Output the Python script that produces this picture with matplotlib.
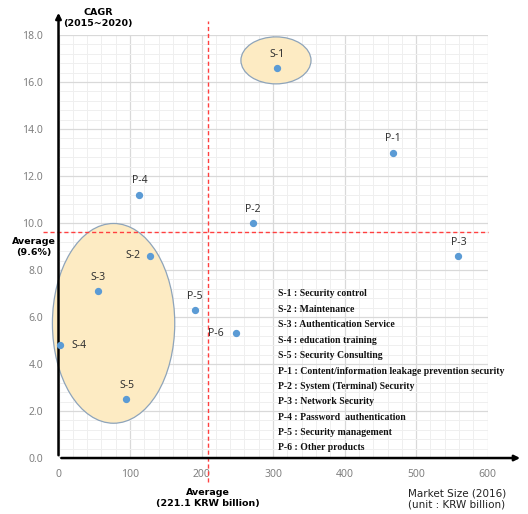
import numpy as np
import matplotlib
matplotlib.use("Agg")
import matplotlib.pyplot as plt
from matplotlib.patches import Ellipse
from matplotlib.ticker import MultipleLocator

# data
names = ["S-1", "S-2", "S-3", "S-4", "S-5", "P-1", "P-2", "P-3", "P-4", "P-5", "P-6"]
market = [306, 128, 55, 2, 95, 468, 272, 559, 113, 191, 248]
cagr = [16.6, 8.6, 7.1, 4.8, 2.5, 13.0, 10.0, 8.6, 11.2, 6.3, 5.3]
descr = ["Security control", "Maintenance", "Authentication Service",
         "education training", "Security Consulting",
         "Content/information leakage prevention security",
         "System (Terminal) Security", "Network Security",
         "Password  authentication", "Security management", "Other products"]
avg_x = 209     # drawn position of the market size average
avg_y = 9.6

plt.rcParams['font.family'] = ['Noto Sans', 'DejaVu Sans']

fig = plt.figure(figsize=(5.28, 5.14), dpi=100)
ax = fig.add_axes([0.1108, 0.1089, 0.8129, 0.823])
ax.set_xlim(0, 600)
ax.set_ylim(0, 18)

ax.xaxis.set_major_locator(MultipleLocator(100))
ax.xaxis.set_minor_locator(MultipleLocator(20))
ax.yaxis.set_major_locator(MultipleLocator(2))
ax.yaxis.set_minor_locator(MultipleLocator(0.4))
ax.grid(which='major', color='#d9d9d9', lw=0.9)
ax.grid(which='minor', color='#efefef', lw=0.7)
ax.set_axisbelow(True)
ax.tick_params(which='both', length=0, colors='#808080', labelsize=7.5)
ax.tick_params(axis='y', pad=11)
ax.tick_params(axis='x', pad=8)
ax.yaxis.set_major_formatter(plt.FuncFormatter(lambda v, p: f"{v:.1f}"))
for s in ax.spines.values():
    s.set_visible(False)

# ellipses
ax.add_patch(Ellipse((304, 16.92), 98, 2.0, fc='#fdebc3', ec='#8ea4ba', lw=0.9, zorder=1.5, clip_on=False))
ax.add_patch(Ellipse((77, 5.73), 171, 8.5, fc='#fdebc3', ec='#8ea4ba', lw=0.9, zorder=1.5, clip_on=False))

# averages
ax.plot([avg_x, avg_x], [-1.0, 18.6], color='#ff4040', ls=(0, (3, 2)), lw=1, clip_on=False, zorder=2)
ax.plot([-22, 600], [avg_y, avg_y], color='#ff4040', ls=(0, (3, 2)), lw=1, clip_on=False, zorder=2)

ax.scatter(market, cagr, s=18, color='#5b9bd5', zorder=4, clip_on=False)

offsets = {"S-2": (-7, 0, 'right', 'center'), "P-6": (-9, 0, 'right', 'center'),
           "S-4": (8, 0, 'left', 'center')}
for n, x, y in zip(names, market, cagr):
    dx, dy, ha, va = offsets.get(n, (0, 6, 'center', 'bottom'))
    ax.annotate(n, (x, y), xytext=(dx, dy), textcoords='offset points',
                ha=ha, va=va, fontsize=7.5, color='#333333', zorder=5)

# axis arrows
ax.annotate('', xy=(0, 1.059), xytext=(0, 0), xycoords='axes fraction',
            arrowprops=dict(arrowstyle='-|>', color='black', lw=1.8, mutation_scale=8), annotation_clip=False)
ax.annotate('', xy=(1.082, 0), xytext=(0, 0), xycoords='axes fraction',
            arrowprops=dict(arrowstyle='-|>', color='black', lw=1.8, mutation_scale=8), annotation_clip=False)

# axis texts
bold = dict(fontsize=6.8, fontweight='bold', family=['DejaVu Sans'], linespacing=1.2)
fig.text(98 / 528, 1 - 18 / 514, "CAGR\n(2015~2020)", ha='center', va='center', **bold)
fig.text(34 / 528, 1 - 247 / 514, "Average\n(9.6%)", ha='center', va='center', **bold)
fig.text(208 / 528, 1 - 498 / 514, "Average\n(221.1 KRW billion)", ha='center', va='center', **bold)
fig.text(408 / 528, 1 - 499 / 514, "Market Size (2016)\n(unit : KRW billion)", ha='left', va='center',
         fontsize=7.5, family=['DejaVu Sans'], color='#222222', linespacing=1.2)

# code list
for i, (n, d) in enumerate(zip(names, descr)):
    fig.text(278 / 528, 1 - (294 + i * 15.4) / 514, f"{n} : {d}", ha='left', va='center',
             fontsize=7, fontweight='bold', family=['Liberation Serif'], color='#111111')

fig.savefig("out.png", dpi=100)
